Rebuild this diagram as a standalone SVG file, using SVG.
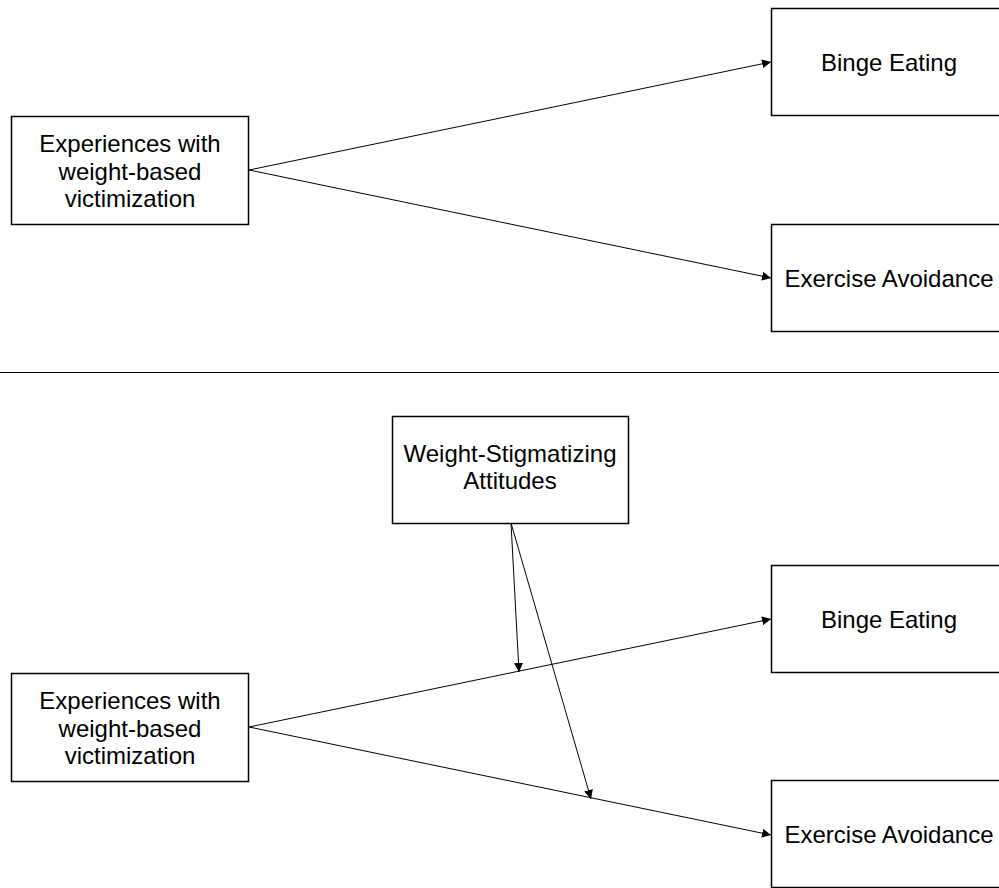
<svg xmlns="http://www.w3.org/2000/svg" width="999" height="888" viewBox="0 0 999 888">
<style>
.box{fill:#fff;stroke:#000;stroke-width:1.5}
.t{font-family:"Liberation Sans",Arial,sans-serif;font-size:24px;fill:#000;text-anchor:middle}
.c{stroke:#000;stroke-width:1;fill:none;marker-end:url(#ah)}
</style>
<defs>
<marker id="ah" viewBox="0 0 10 10" refX="10" refY="5" markerWidth="9" markerHeight="9" markerUnits="userSpaceOnUse" orient="auto">
<path d="M0,0 L10,5 L0,10 z" fill="#000"/>
</marker>
</defs>
<rect width="999" height="888" fill="#fff"/>
<g id="connectors">
<line class="c" x1="249" y1="170" x2="771" y2="62"/>
<line class="c" x1="249" y1="170" x2="771" y2="278"/>
<line class="c" x1="249" y1="727" x2="771" y2="619"/>
<line class="c" x1="249" y1="727" x2="771" y2="835"/>
<line class="c" x1="511" y1="523" x2="519" y2="672"/>
<line class="c" x1="511" y1="523" x2="591" y2="799"/>
</g>
<line id="separator" x1="0" y1="372.5" x2="999" y2="372.5" stroke="#000" stroke-width="1"/>
<g id="top-source">
<rect class="box" x="11.5" y="116.5" width="237" height="108"/>
<text class="t" x="130" y="152">Experiences with</text>
<text class="t" x="130" y="179.5">weight-based</text>
<text class="t" x="130" y="207">victimization</text>
</g>
<g id="top-binge">
<rect class="box" x="771.5" y="8.5" width="236" height="107"/>
<text class="t" x="889" y="71">Binge Eating</text>
</g>
<g id="top-exercise">
<rect class="box" x="771.5" y="224.5" width="236" height="107"/>
<text class="t" x="889" y="287">Exercise Avoidance</text>
</g>
<g id="moderator">
<rect class="box" x="392.5" y="416.5" width="236" height="107"/>
<text class="t" x="510" y="462">Weight-Stigmatizing</text>
<text class="t" x="510" y="489">Attitudes</text>
</g>
<g id="bottom-source">
<rect class="box" x="11.5" y="673.5" width="237" height="108"/>
<text class="t" x="130" y="709">Experiences with</text>
<text class="t" x="130" y="736.5">weight-based</text>
<text class="t" x="130" y="764">victimization</text>
</g>
<g id="bottom-binge">
<rect class="box" x="771.5" y="565.5" width="236" height="107"/>
<text class="t" x="889" y="628">Binge Eating</text>
</g>
<g id="bottom-exercise">
<rect class="box" x="771.5" y="780.5" width="236" height="107"/>
<text class="t" x="889" y="843">Exercise Avoidance</text>
</g>
</svg>
